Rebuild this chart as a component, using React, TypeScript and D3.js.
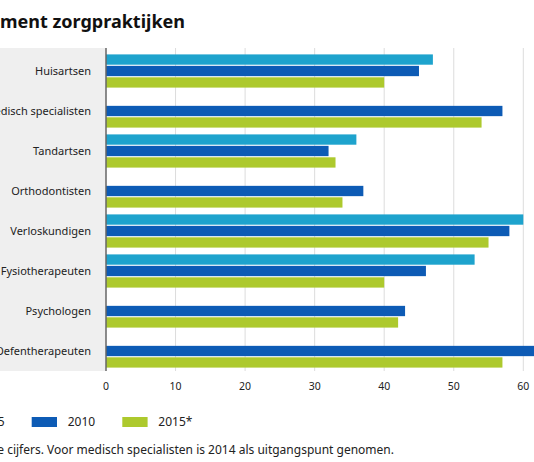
import React, { useRef, useEffect } from "react";
import * as d3 from "d3";

const categories = [
  "Huisartsen",
  "Medisch specialisten",
  "Tandartsen",
  "Orthodontisten",
  "Verloskundigen",
  "Fysiotherapeuten",
  "Psychologen",
  "Oefentherapeuten",
];
const years = ["2005", "2010", "2015*"];
const values2005: (number | null)[] = [47, null, 36, null, 60, 53, null, null];
const values2010: (number | null)[] = [45, 57, 32, 37, 58, 46, 43, 63];
const values2015: (number | null)[] = [40, 54, 33, 34, 55, 40, 42, 57];
const xTicks = [0, 10, 20, 30, 40, 50, 60];
const colors = ["#1ea3cd", "#0d5bb5", "#adc92d"];
const title = "Aandeel vrouwen in het management zorgpraktijken";
const footnote = "* Voorlopige cijfers. Voor medisch specialisten is 2014 als uitgangspunt genomen.";

const W = 534;
const H = 462;
const font = "'Noto Sans', sans-serif";

const BarChart: React.FC = () => {
  const svgRef = useRef<SVGSVGElement>(null);

  useEffect(() => {
    if (!svgRef.current) return;
    const svg = d3.select(svgRef.current);
    svg.selectAll("*").remove();

    const top = 48;
    const bottom = 371;
    const left = 106;

    const x = d3.scaleLinear().domain([0, 60]).range([left, 523.3]);
    const y = d3
      .scaleBand()
      .domain(categories)
      .range([51, 371])
      .paddingInner(0.17)
      .paddingOuter(0.085);
    const sub = d3
      .scaleBand()
      .domain(years)
      .range([0, y.bandwidth()])
      .paddingInner(0.1);

    const series = [values2005, values2010, values2015];

    // label background
    svg
      .append("rect")
      .attr("x", 0)
      .attr("y", top)
      .attr("width", left)
      .attr("height", bottom - top)
      .attr("fill", "#efefef");

    // gridlines
    svg
      .append("g")
      .selectAll("line")
      .data(xTicks.slice(1))
      .join("line")
      .attr("x1", (d) => x(d))
      .attr("x2", (d) => x(d))
      .attr("y1", top)
      .attr("y2", bottom)
      .attr("stroke", "#dcdcdc")
      .attr("stroke-width", 1);

    // bars
    series.forEach((vals, si) => {
      svg
        .append("g")
        .selectAll("rect")
        .data(categories.map((c, i) => ({ c, v: vals[i] })).filter((d) => d.v != null))
        .join("rect")
        .attr("x", x(0))
        .attr("y", (d) => y(d.c)! + sub(years[si])!)
        .attr("width", (d) => x(d.v as number) - x(0))
        .attr("height", sub.bandwidth())
        .attr("fill", colors[si]);
    });

    // axis line
    svg
      .append("line")
      .attr("x1", left)
      .attr("x2", left)
      .attr("y1", top)
      .attr("y2", bottom)
      .attr("stroke", "#666")
      .attr("stroke-width", 1.5);

    // category labels
    svg
      .append("g")
      .selectAll("text")
      .data(categories)
      .join("text")
      .attr("x", 91)
      .attr("y", (d) => y(d)! + y.bandwidth() / 2)
      .attr("dy", "0.35em")
      .attr("text-anchor", "end")
      .attr("font-family", font)
      .attr("font-size", 11)
      .attr("fill", "#222")
      .text((d) => d);

    // tick labels
    svg
      .append("g")
      .selectAll("text")
      .data(xTicks)
      .join("text")
      .attr("x", (d) => x(d))
      .attr("y", 390)
      .attr("text-anchor", "middle")
      .attr("font-family", font)
      .attr("font-size", 10.5)
      .attr("fill", "#222")
      .text((d) => d);

    // title
    svg
      .append("text")
      .attr("x", 185)
      .attr("y", 28)
      .attr("text-anchor", "end")
      .attr("font-family", font)
      .attr("font-weight", "bold")
      .attr("font-size", 18)
      .attr("fill", "#111")
      .text(title);

    // legend
    const legend = svg
      .append("g")
      .selectAll("g")
      .data(years)
      .join("g")
      .attr("transform", (_, i) => `translate(${-58.9 + i * 90.6},417)`);
    legend
      .append("rect")
      .attr("width", 25.3)
      .attr("height", 10)
      .attr("fill", (_, i) => colors[i]);
    legend
      .append("text")
      .attr("x", 36)
      .attr("y", 9)
      .attr("font-family", font)
      .attr("font-size", 12)
      .attr("fill", "#222")
      .text((d) => d);

    // footnote
    svg
      .append("text")
      .attr("x", 394)
      .attr("y", 454)
      .attr("text-anchor", "end")
      .attr("font-family", font)
      .attr("font-size", 12)
      .attr("fill", "#222")
      .text(footnote);
  }, []);

  return (
    <svg
      ref={svgRef}
      width={W}
      height={H}
      style={{ position: "absolute", left: 0, top: 0, background: "#fff" }}
    ></svg>
  );
};

export default function App() {
  return <BarChart />;
}
